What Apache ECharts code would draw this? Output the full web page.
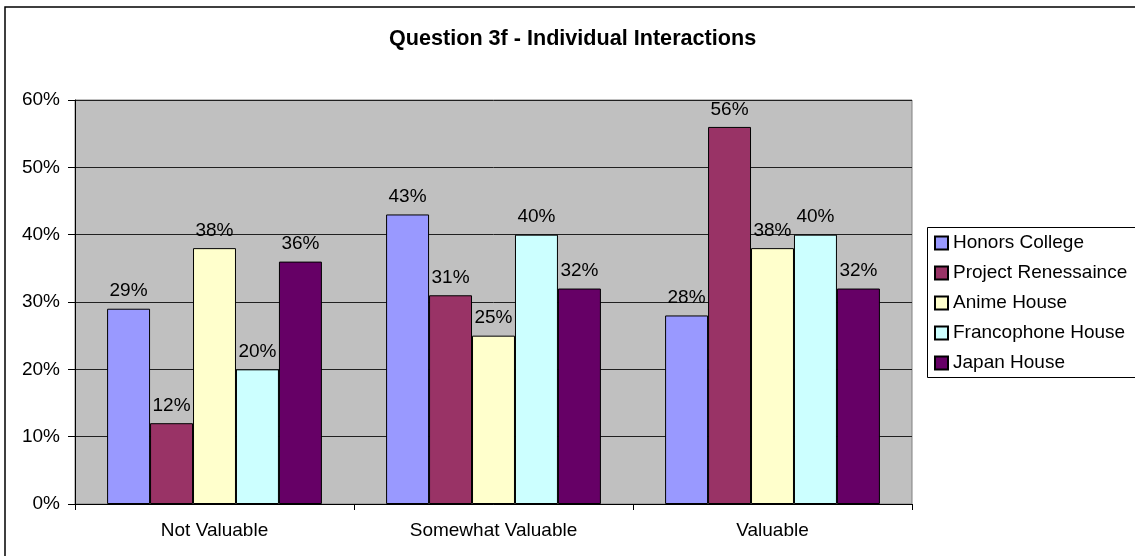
<!DOCTYPE html>
<html>
<head>
<meta charset="utf-8">
<script src="https://cdn.jsdelivr.net/npm/echarts@6/dist/echarts.min.js"></script>
<style>
html,body{margin:0;padding:0;background:#fff;}
#chart{width:1135px;height:556px;}
</style>
</head>
<body>
<div id="chart"></div>
<script>
var categories = ['Not Valuable', 'Somewhat Valuable', 'Valuable'];
var seriesNames = ['Honors College', 'Project Renessaince', 'Anime House', 'Francophone House', 'Japan House'];
var honorsCollege = [29, 43, 28];
var projectRenessaince = [12, 31, 56];
var animeHouse = [38, 25, 38];
var francophoneHouse = [20, 40, 40];
var japanHouse = [36, 32, 32];
var yTicks = [0, 10, 20, 30, 40, 50, 60];
var colors = ['#9999FF', '#993366', '#FFFFCC', '#CCFFFF', '#660066'];

var allValues = [honorsCollege, projectRenessaince, animeHouse, francophoneHouse, japanHouse];
var FONT = '"Liberation Sans", Arial, sans-serif';

var chart = echarts.init(document.getElementById('chart'), null, {renderer: 'canvas'});
var series = seriesNames.map(function (name, i) {
  return {
    name: name,
    type: 'bar',
    data: allValues[i],
    barGap: '0%',
    barCategoryGap: '23%',
    itemStyle: {color: colors[i], borderColor: '#000', borderWidth: 1},
    label: {
      show: true,
      position: 'top',
      distance: 8,
      formatter: '{c}%',
      color: '#000',
      fontSize: 19,
      fontFamily: FONT
    },
    emphasis: {disabled: true}
  };
});

chart.setOption({
  animation: false,
  backgroundColor: '#fff',
  title: {
    text: 'Question 3f - Individual Interactions',
    left: 389,
    top: 28,
    padding: 0,
    textStyle: {fontSize: 21.6, fontWeight: 'bold', color: '#000', fontFamily: FONT}
  },
  graphic: [{
    type: 'rect',
    shape: {x: 5, y: 7, width: 1200, height: 600},
    style: {fill: 'none', stroke: '#000', lineWidth: 1.5},
    silent: true,
    z: 100
  }, {
    type: 'rect',
    shape: {x: 927.5, y: 227.5, width: 300, height: 150},
    style: {fill: 'none', stroke: '#000', lineWidth: 1},
    silent: true,
    z: 100
  }],
  legend: {
    orient: 'vertical',
    left: 927,
    top: 227,
    padding: [6, 5, 5, 7],
    itemWidth: 13,
    itemHeight: 13,
    itemGap: 10,
    borderWidth: 0,
    icon: 'rect',
    textStyle: {fontSize: 19, color: '#000', fontFamily: FONT, lineHeight: 20},
    data: seriesNames
  },
  grid: {
    left: 75, right: 223, top: 100, bottom: 52,
    show: true,
    backgroundColor: '#C0C0C0',
    borderColor: '#808080',
    borderWidth: 1
  },
  xAxis: {
    type: 'category',
    data: categories,
    axisLine: {lineStyle: {color: '#000', width: 1}},
    axisTick: {show: true, length: 6, interval: 0, alignWithLabel: false, lineStyle: {color: '#000'}},
    axisLabel: {fontSize: 19, color: '#000', fontFamily: FONT, margin: 17, interval: 0}
  },
  yAxis: {
    type: 'value',
    min: yTicks[0],
    max: yTicks[yTicks.length - 1],
    interval: 10,
    axisLine: {show: true, lineStyle: {color: '#000'}},
    axisTick: {show: true, length: 7, lineStyle: {color: '#000'}},
    axisLabel: {fontSize: 19, color: '#000', fontFamily: FONT, margin: 15, formatter: '{value}%'},
    splitLine: {show: true, lineStyle: {color: '#202020', width: 1}}
  },
  series: series
});
</script>
</body>
</html>
